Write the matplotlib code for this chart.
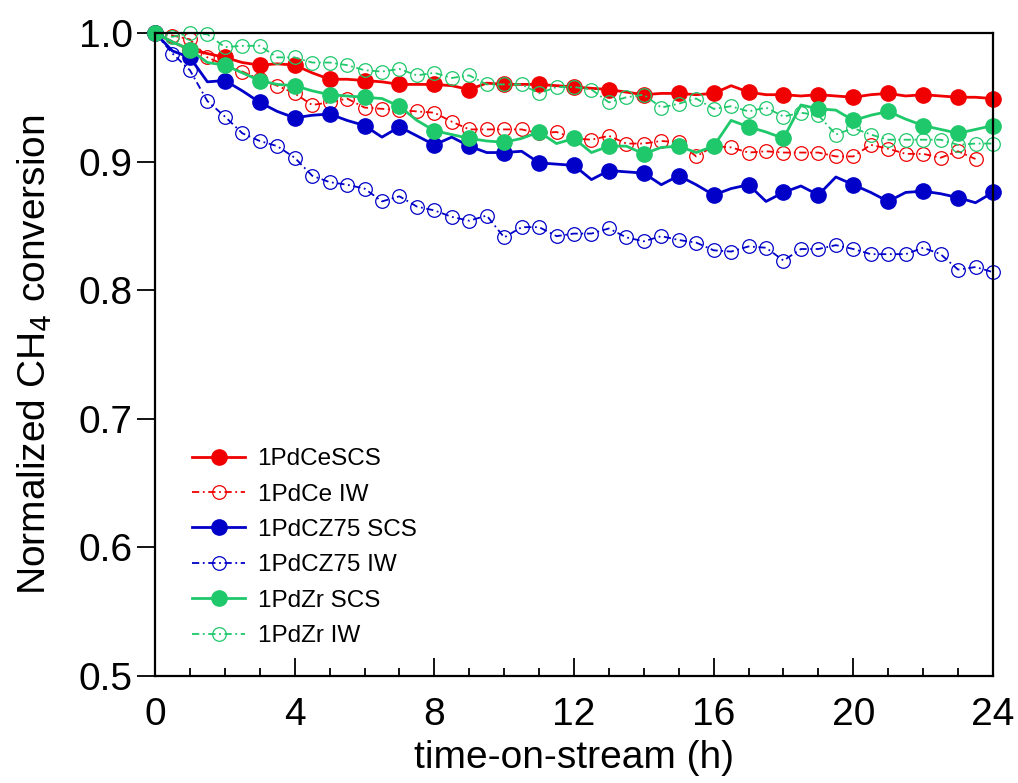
import matplotlib
matplotlib.use("Agg")
import matplotlib.pyplot as plt
import numpy as np

plt.rcParams['font.family'] = ['Liberation Sans', 'DejaVu Sans']

# time on stream, sampled every half hour
hours = np.arange(0, 24.5, 0.5)

# 1PdCe SCS
ce_scs = [1.000, 0.993, 0.987, 0.984, 0.981, 0.977, 0.975, 0.976, 0.975, 0.969,
          0.964, 0.964, 0.963, 0.962, 0.960, 0.960, 0.960, 0.959, 0.956, 0.961,
          0.960, 0.960, 0.960, 0.959, 0.958, 0.957, 0.956, 0.954, 0.952, 0.953,
          0.953, 0.952, 0.953, 0.959, 0.954, 0.952, 0.952, 0.951, 0.952, 0.951,
          0.950, 0.952, 0.953, 0.951, 0.952, 0.951, 0.950, 0.950, 0.949]
# 1PdCe IW (last point at 23.5 h)
ce_iw = [1.000, 0.998, 0.995, 0.981, 0.975, 0.970, 0.964, 0.959, 0.953, 0.944,
         0.946, 0.949, 0.942, 0.941, 0.940, 0.939, 0.938, 0.931, 0.925, 0.925,
         0.925, 0.925, 0.922, 0.923, 0.918, 0.917, 0.920, 0.914, 0.914, 0.916,
         0.915, 0.904, 0.912, 0.911, 0.907, 0.908, 0.907, 0.907, 0.907, 0.904,
         0.904, 0.913, 0.910, 0.906, 0.906, 0.903, 0.908, 0.902]
# 1PdCZ75 SCS
cz_scs = [1.000, 0.986, 0.981, 0.962, 0.963, 0.955, 0.946, 0.939, 0.934, 0.936,
          0.937, 0.932, 0.928, 0.919, 0.927, 0.920, 0.913, 0.919, 0.912, 0.907,
          0.907, 0.908, 0.899, 0.898, 0.897, 0.886, 0.893, 0.892, 0.891, 0.882,
          0.889, 0.882, 0.874, 0.879, 0.882, 0.869, 0.876, 0.881, 0.874, 0.888,
          0.882, 0.876, 0.869, 0.876, 0.877, 0.875, 0.872, 0.868, 0.876]
# 1PdCZ75 IW
cz_iw = [1.000, 0.984, 0.971, 0.947, 0.935, 0.922, 0.916, 0.912, 0.903, 0.889,
         0.884, 0.882, 0.879, 0.869, 0.873, 0.865, 0.862, 0.857, 0.854, 0.858,
         0.841, 0.849, 0.849, 0.842, 0.844, 0.844, 0.848, 0.841, 0.838, 0.842,
         0.839, 0.837, 0.831, 0.830, 0.834, 0.833, 0.823, 0.832, 0.832, 0.835,
         0.832, 0.828, 0.828, 0.828, 0.833, 0.828, 0.816, 0.818, 0.814]
# 1PdZr SCS
zr_scs = [1.000, 0.993, 0.987, 0.977, 0.975, 0.969, 0.963, 0.960, 0.959, 0.955,
          0.952, 0.951, 0.950, 0.949, 0.943, 0.932, 0.924, 0.921, 0.918, 0.916,
          0.915, 0.918, 0.923, 0.914, 0.918, 0.907, 0.912, 0.912, 0.906, 0.911,
          0.912, 0.907, 0.912, 0.932, 0.927, 0.923, 0.918, 0.944, 0.941, 0.940,
          0.932, 0.936, 0.939, 0.933, 0.928, 0.925, 0.922, 0.925, 0.928]
# 1PdZr IW
zr_iw = [1.000, 0.997, 1.000, 0.999, 0.989, 0.990, 0.990, 0.981, 0.981, 0.977,
         0.977, 0.975, 0.971, 0.970, 0.972, 0.967, 0.969, 0.965, 0.967, 0.960,
         0.960, 0.960, 0.953, 0.958, 0.958, 0.956, 0.946, 0.950, 0.952, 0.942,
         0.945, 0.949, 0.941, 0.943, 0.939, 0.942, 0.935, 0.938, 0.936, 0.921,
         0.926, 0.921, 0.917, 0.917, 0.917, 0.917, 0.913, 0.914, 0.914]

labels = ['1PdCeSCS', '1PdCe IW', '1PdCZ75 SCS', '1PdCZ75 IW', '1PdZr SCS', '1PdZr IW']
red = '#f00000'
blue = '#0000c8'
green = '#1fc86a'

fig = plt.figure(figsize=(10.18, 7.83), dpi=100)
ax = fig.add_axes([0.1523, 0.1367, 0.8231, 0.8212])

dashdot = (0, (4, 2, 1, 2))

def solid_line(y, c, lab):
    ax.plot(hours[:len(y)], y, '-', color=c, lw=2.0, marker='o', ms=11,
            markevery=2, mfc=c, mec=c, label=lab, clip_on=False)

def open_line(y, c, lab):
    ax.plot(hours[:len(y)], y, linestyle=dashdot, color=c, lw=1.3, marker='o',
            ms=9.8, mfc='none', mec=c, mew=0.9, label=lab, clip_on=False)

solid_line(ce_scs, red, labels[0])
open_line(ce_iw, red, labels[1])
solid_line(cz_scs, blue, labels[2])
open_line(cz_iw, blue, labels[3])
solid_line(zr_scs, green, labels[4])
open_line(zr_iw, green, labels[5])

ax.set_xlim(0, 24)
ax.set_ylim(0.5, 1.0)
ax.set_xticks(np.arange(0, 25, 4))
ax.set_xticks(np.arange(0, 25, 1), minor=True)
ax.set_yticks(np.arange(0.5, 1.01, 0.1))
ax.set_yticklabels(['0.5', '0.6', '0.7', '0.8', '0.9', '1.0'])

ax.tick_params(axis='x', which='major', direction='in', length=13, width=1.3,
               labelsize=28, pad=15, top=False)
ax.tick_params(axis='x', which='minor', direction='in', length=6, width=1.3, top=False)
ax.tick_params(axis='y', which='major', direction='out', length=13, width=1.3,
               labelsize=28, pad=3, right=False)
for s in ax.spines.values():
    s.set_linewidth(1.6)

ax.set_xlabel('time-on-stream (h)', fontsize=28, labelpad=5)
ax.set_ylabel('Normalized CH$_4$ conversion', fontsize=28, labelpad=18)

ax.legend(loc='lower left', bbox_to_anchor=(0.044, 0.045), frameon=False,
          fontsize=17.5, handlelength=2.2, handletextpad=0.5, labelspacing=0.55,
          borderaxespad=0, borderpad=0)

fig.savefig('out.png', dpi=100)
